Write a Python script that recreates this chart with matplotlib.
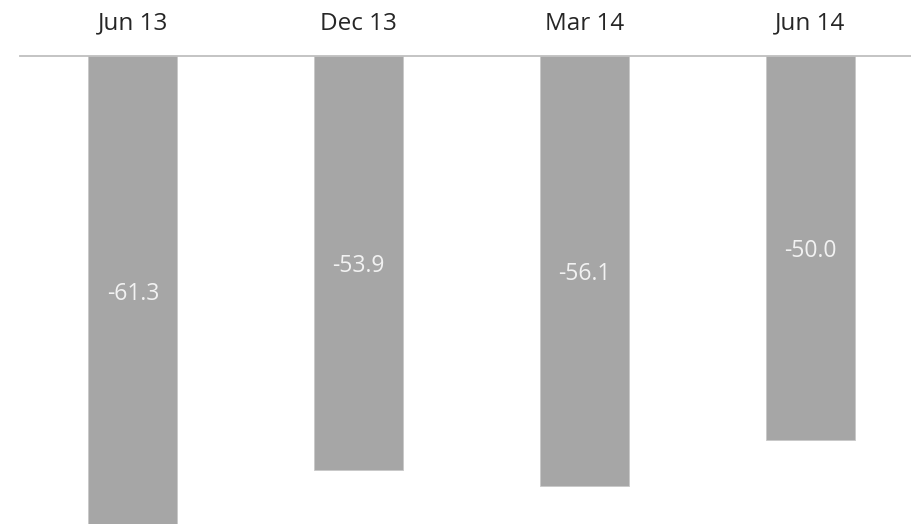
import numpy as np
import matplotlib
matplotlib.use("Agg")
import matplotlib.pyplot as plt

plt.rcParams['font.family'] = ['Open Sans', 'DejaVu Sans']

categories = ["Jun 13", "Dec 13", "Mar 14", "Jun 14"]
values = [-61.3, -53.9, -56.1, -50.0]

fig = plt.figure(figsize=(9.11, 5.24), dpi=100)
# axes runs off the bottom/right edge like the cropped original
ax = fig.add_axes([20 / 911, 0, 1 - 20 / 911, 468 / 524])

x = np.arange(len(categories))
ax.bar(x, values, width=0.395, color='#A6A6A6', edgecolor='#C8C8C8', linewidth=0.6, zorder=2)

ax.set_xlim(-0.5, (911 - 20) / 225.8 - 0.5)
ax.set_ylim(-61.0, 0)

for s in ['left', 'right', 'bottom']:
    ax.spines[s].set_visible(False)
ax.spines['top'].set_color('#BFBFBF')
ax.spines['top'].set_linewidth(1.3)
ax.spines['top'].set_zorder(3)
ax.set_xticks([])
ax.set_yticks([])

for xi, cat in zip(x, categories):
    ax.annotate(cat, xy=(xi, 1), xycoords=('data', 'axes fraction'),
                xytext=(0, 19), textcoords='offset points',
                ha='center', va='baseline', fontsize=17.5, color='#262626')

for xi, v in zip(x, values):
    ax.annotate(f"{v:.1f}", xy=(xi, v / 2), xytext=(0, -2), textcoords='offset points',
                ha='center', va='center', fontsize=16.5, color='#F2F2F2', zorder=4)

fig.savefig("out.png", dpi=100)
